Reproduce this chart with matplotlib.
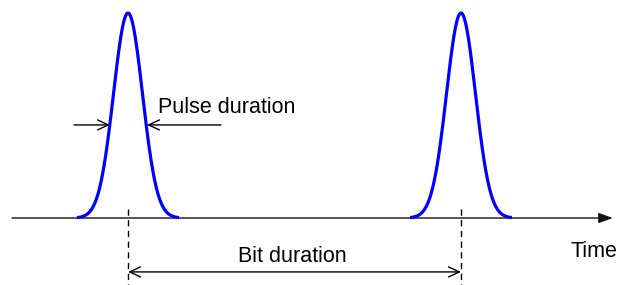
import numpy as np
from matplotlib import pyplot as plt

# pulse data (time in units of bit duration, amplitude normalised)
pulse_centers = [0.0, 1.0]
pulse_amplitude = 1.0
pulse_sigma = 0.0435     # gaussian pulse width
pulse_halfspan = 0.153   # drawn range either side of each centre

# pulse-duration markers (where the arrows touch the pulse)
pulse_dur_left = -0.054
pulse_dur_right = 0.057
pulse_dur_level = 0.454

time_axis_start = -0.348
time_axis_end = 1.456

labels = {'pulse': 'Pulse duration', 'bit': 'Bit duration', 'time': 'Time'}

plt.rcParams['font.family'] = ['Liberation Sans', 'DejaVu Sans']

fig = plt.figure(figsize=(6.19, 2.85), dpi=100)
ax = fig.add_axes([0, 0, 1, 1])
ax.set_xlim(-0.3844, 1.4745)
ax.set_ylim(-0.3268, 1.0634)
ax.axis('off')

# time axis
ax.annotate('', xy=(time_axis_end, 0), xytext=(time_axis_start, 0),
            arrowprops=dict(arrowstyle='-|>,head_length=8.6,head_width=3.1',
                            mutation_scale=1, color='#111111', lw=1.0,
                            shrinkA=0, shrinkB=0))

# pulses
for c in pulse_centers:
    t = np.linspace(c - pulse_halfspan, c + pulse_halfspan, 300)
    y = pulse_amplitude * np.exp(-0.5 * ((t - c) / pulse_sigma) ** 2)
    ax.plot(t, y, color='#0000ff', lw=2.3, solid_capstyle='butt', zorder=3)
    # dashed marker below each pulse centre
    ax.plot([c, c], [0.044, -0.33], color='black', lw=1.0,
            linestyle=(0, (4.5, 3.2)))

arrow_open = dict(arrowstyle='->,head_length=7.8,head_width=3.6',
                  mutation_scale=1, color='black', lw=1.0,
                  shrinkA=0, shrinkB=0)

# pulse duration arrows
ax.annotate('', xy=(pulse_dur_left, pulse_dur_level),
            xytext=(-0.162, pulse_dur_level), arrowprops=arrow_open)
ax.annotate('', xy=(pulse_dur_right, pulse_dur_level),
            xytext=(0.279, pulse_dur_level), arrowprops=arrow_open)
ax.text(0.090, 0.512, labels['pulse'], fontsize=15.5, ha='left', va='baseline')

# bit duration arrow
arrow_both = dict(arrow_open)
arrow_both['arrowstyle'] = '<->,head_length=7.8,head_width=3.6'
ax.annotate('', xy=(pulse_centers[1], -0.263), xytext=(pulse_centers[0], -0.263),
            arrowprops=arrow_both)
ax.text(0.4925, -0.215, labels['bit'], fontsize=15.5, ha='center', va='baseline')

ax.text(1.471, -0.190, labels['time'], fontsize=15.5, ha='right', va='baseline')

fig.savefig('out.png', dpi=100)
